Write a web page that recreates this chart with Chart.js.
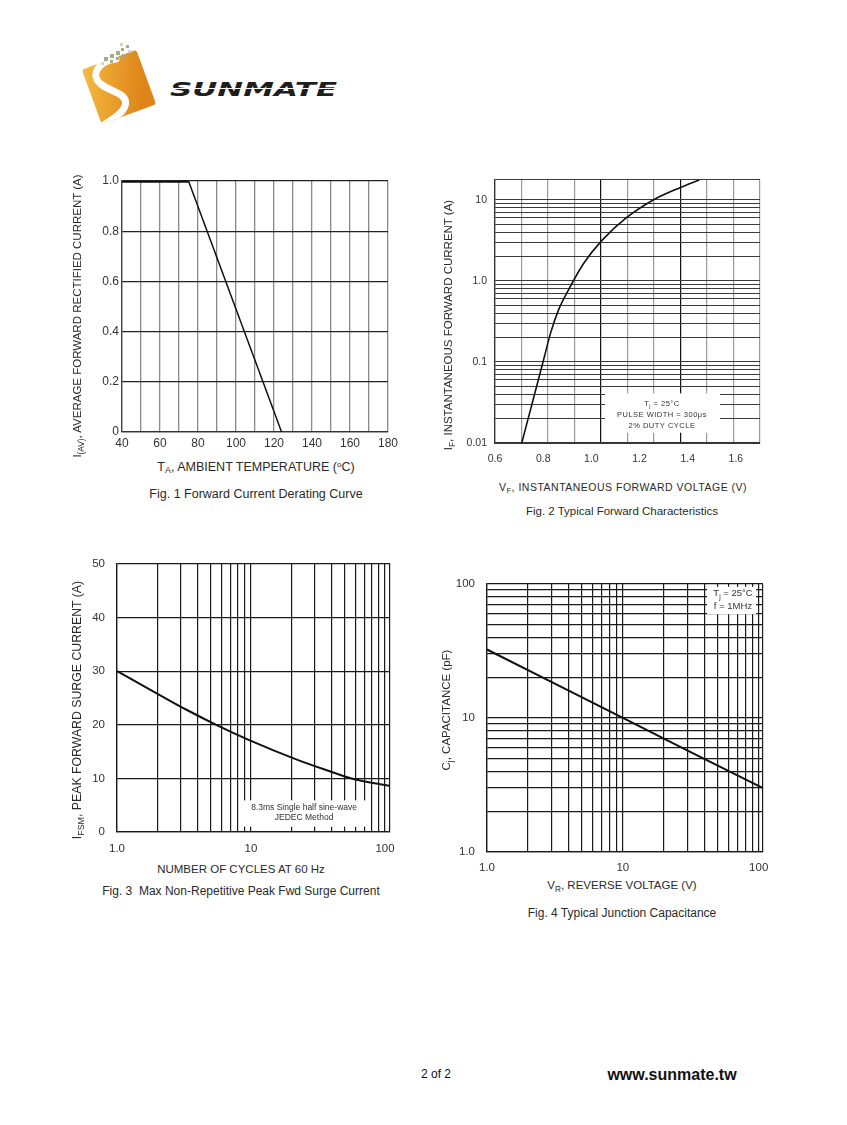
<!DOCTYPE html>
<html lang="en">
<head>
<meta charset="UTF-8">
<title>Sunmate - Typical Characteristic Curves</title>
<script src="https://cdn.jsdelivr.net/npm/chart.js"></script>
<style>
  body { margin: 0; background: #fff; font-family: "Liberation Sans", Arial, sans-serif; color: #2a2a2a; }
  #page { position: relative; width: 847px; height: 1125px; overflow: hidden; background: #fff; }
  canvas { position: absolute; }
  .lbl { position: absolute; white-space: nowrap; transform: translate(-50%, -50%); line-height: 1; }
  .rot { transform: translate(-50%, -50%) rotate(-90deg); }
  sub { font-size: 72%; vertical-align: -0.3em; line-height: 0; }
  sup { font-size: 65%; vertical-align: 0.45em; line-height: 0; }
  #logo { position: absolute; left: 0; top: 0; }
</style>
</head>
<body>
<div id="page">

  <svg id="logo" width="360" height="140" viewBox="0 0 360 140">
    <defs>
      <linearGradient id="og" x1="0" y1="0" x2="1" y2="0.4">
        <stop offset="0" stop-color="#f5ba42"/>
        <stop offset="1" stop-color="#de8418"/>
      </linearGradient>
      <clipPath id="sq"><rect x="90" y="58" width="58" height="58" rx="3" transform="rotate(-20 119 87)"/></clipPath>
    </defs>
    <rect x="90" y="58" width="58" height="58" rx="3" fill="url(#og)" transform="rotate(-20 119 87)"/>
    <path d="M116 59 C98 61 89 76 102 85 C112 92 129 94 125 106 C122 115 110 120 101 127"
          fill="none" stroke="#fff" stroke-width="7" stroke-linecap="round" clip-path="url(#sq)"/>
    <g fill="#a3ad86">
      <rect x="104" y="57" width="4" height="4"/><rect x="110" y="54" width="4" height="4"/>
      <rect x="116" y="51" width="4" height="4"/><rect x="110" y="60" width="3" height="3"/>
      <rect x="116" y="57" width="3" height="3"/><rect x="121" y="48" width="3" height="3"/>
      <rect x="122" y="54" width="3" height="3"/><rect x="126" y="45" width="3" height="3"/>
    </g>
    <g fill="#d2d6c4">
      <rect x="101" y="62" width="3" height="3"/><rect x="120" y="43" width="3" height="3"/>
      <rect x="128" y="50" width="3" height="3"/>
    </g>
    <text x="170" y="96" font-family="DejaVu Sans" font-size="19" font-weight="bold" font-style="italic"
          textLength="167" lengthAdjust="spacingAndGlyphs" fill="#1e1e1e">SUNMATE</text>
    <line x1="168" y1="88.5" x2="338" y2="88.5" stroke="#fff" stroke-width="1.2"/>
  </svg>

  <canvas id="fig1" width="330" height="282" style="left:72px;top:170px"></canvas>
  <canvas id="fig2" width="340" height="305" style="left:430px;top:165px"></canvas>
  <canvas id="fig3" width="335" height="311" style="left:67px;top:545px"></canvas>
  <canvas id="fig4" width="345" height="309" style="left:430px;top:565px"></canvas>

  <div class="lbl rot" style="left:78px;top:316px;font-size:11.5px">I<sub>(AV)</sub>, AVERAGE FORWARD RECTIFIED CURRENT (A)</div>
  <div class="lbl" style="left:256px;top:467px;font-size:12.5px">T<sub>A</sub>, AMBIENT TEMPERATURE (<sup>o</sup>C)</div>
  <div class="lbl" style="left:256px;top:494px;font-size:12.5px">Fig. 1 Forward Current Derating Curve</div>

  <div class="lbl rot" style="left:449px;top:325px;font-size:11.5px">I<sub>F</sub>, INSTANTANEOUS FORWARD CURRENT (A)</div>
  <div class="lbl" style="left:623px;top:487px;font-size:10.5px;letter-spacing:0.5px">V<sub>F</sub>, INSTANTANEOUS FORWARD VOLTAGE (V)</div>
  <div class="lbl" style="left:622px;top:512px;font-size:11.5px">Fig. 2 Typical Forward Characteristics</div>

  <div class="lbl rot" style="left:77px;top:710px;font-size:12.3px">I<sub>FSM</sub>, PEAK FORWARD SURGE CURRENT (A)</div>
  <div class="lbl" style="left:241px;top:870px;font-size:11.5px">NUMBER OF CYCLES AT 60 Hz</div>
  <div class="lbl" style="left:241px;top:891px;font-size:12px">Fig. 3&nbsp; Max Non-Repetitive Peak Fwd Surge Current</div>

  <div class="lbl rot" style="left:447px;top:710px;font-size:11.5px">C<sub>j</sub>, CAPACITANCE (pF)</div>
  <div class="lbl" style="left:622px;top:886px;font-size:11.5px">V<sub>R</sub>, REVERSE VOLTAGE (V)</div>
  <div class="lbl" style="left:622px;top:913px;font-size:12px">Fig. 4 Typical Junction Capacitance</div>

  <div class="lbl" style="left:436px;top:1074px;font-size:12px;color:#111">2 of 2</div>
  <div class="lbl" style="left:672px;top:1075px;font-size:16px;font-weight:bold;color:#111">www.sunmate.tw</div>
</div>

<script>
  // Fig. 1 - derating
  const derateTemp = [40, 75, 124];
  const derateCurrent = [1.0, 1.0, 0];

  // Fig. 2 - forward characteristics
  const fwdVolt = [0.711, 0.758, 0.805, 0.830, 0.863, 0.904, 0.967, 1.043, 1.147, 1.257, 1.368, 1.448];
  const fwdCurr = [0.01, 0.034, 0.116, 0.224, 0.434, 0.764, 1.63, 3.15, 6.08, 10.0, 14.2, 17.7];
  const fig2XTickVals = [0.6, 0.8, 1.0, 1.2, 1.4, 1.6];
  const fig2XTickText = ['0.6', '0.8', '1.0', '1.2', '1.4', '1.6'];
  const fig2YTickVals = [0.01, 0.1, 1, 10];
  const fig2YTickText = ['0.01', '0.1', '1.0', '10'];

  // Fig. 3 - surge current
  const cycles = [1, 2.1, 3.3, 5.7, 9.8, 22, 35, 58, 109];
  const surgeAmp = [30, 25.5, 22.8, 19.8, 17.1, 13.5, 11.7, 9.9, 8.6];

  // Fig. 4 - junction capacitance
  const revVolt = [1, 3, 10, 30, 107.6];
  const capPF = [32.4, 18.5, 10, 5.7, 3.0];

  const decadeVals = [1, 10, 100];
  const decadeText = ['1.0', '10', '100'];

  const FONT = '"Liberation Sans", Arial, sans-serif';

  function pts(xs, ys) { return xs.map((x, i) => ({ x: x, y: ys[i] })); }

  function logGrid(min, max) {
    const out = [];
    for (let e = Math.floor(Math.log10(min)); e <= Math.ceil(Math.log10(max)); e++) {
      for (let m = 1; m < 10; m++) {
        const v = Number((m * Math.pow(10, e)).toPrecision(6));
        if (v >= min - 1e-9 && v <= max + 1e-9) out.push(v);
      }
    }
    if (out[out.length - 1] < max) out.push(max);
    return out;
  }

  function findIn(vals, v) { return vals.findIndex(t => Math.abs(t - v) <= Math.abs(t) * 1e-6 + 1e-9); }

  function labelFrom(vals, text) {
    return v => { const i = findIn(vals, v); return i >= 0 ? text[i] : ''; };
  }

  // the printed Fig. 2 grid has 10 even columns that do not sit on the volt labels
  const fig2GridCols = [];
  for (let i = 0; i <= 10; i++) fig2GridCols.push(Number((0.6 + i * 0.11).toFixed(3)));

  // white note box with text drawn above the grid
  const notePlugin = {
    id: 'note',
    beforeDatasetsDraw(chart, args, o) {
      if (!o || !o.box) return;
      const ctx = chart.ctx, xs = chart.scales.x, ys = chart.scales.y;
      const x0 = xs.getPixelForValue(o.box[0]), x1 = xs.getPixelForValue(o.box[1]);
      const y0 = ys.getPixelForValue(o.box[2]), y1 = ys.getPixelForValue(o.box[3]);
      ctx.save();
      ctx.fillStyle = '#fff';
      ctx.fillRect(Math.min(x0, x1), Math.min(y0, y1), Math.abs(x1 - x0), Math.abs(y1 - y0));
      ctx.fillStyle = '#333';
      ctx.textBaseline = 'middle';
      ctx.letterSpacing = o.spacing || '0px';
      const cx = xs.getPixelForValue(o.cx);
      o.lines.forEach(l => {
        const cy = ys.getPixelForValue(l.y);
        let w = 0;
        const parts = l.parts.map(p => {
          const sub = typeof p !== 'string';
          const t = sub ? p.sub : p;
          ctx.font = (sub ? o.size * 0.7 : o.size) + 'px ' + o.family;
          const m = ctx.measureText(t).width;
          w += m;
          return { t, sub, m };
        });
        let x = cx - w / 2;
        parts.forEach(p => {
          ctx.font = (p.sub ? o.size * 0.7 : o.size) + 'px ' + o.family;
          ctx.fillText(p.t, x, cy + (p.sub ? o.size * 0.35 : 0));
          x += p.m;
        });
      });
      ctx.restore();
    }
  };

  function baseOptions(pad) {
    return {
      responsive: false,
      animation: false,
      events: [],
      layout: { padding: pad },
      plugins: { legend: { display: false }, tooltip: { enabled: false } }
    };
  }

  // ---------- Fig. 1 ----------
  new Chart(document.getElementById('fig1'), {
    type: 'line',
    data: {
      datasets: [{
        data: pts(derateTemp, derateCurrent),
        borderColor: '#111',
        borderWidth: 1.5,
        pointRadius: 0,
        segment: { borderWidth: c => c.p0DataIndex === 0 ? 3.5 : 1.5 }
      }]
    },
    options: Object.assign(baseOptions({ top: 11, right: 13, left: 0, bottom: 0 }), {
      scales: {
        x: {
          type: 'linear', min: 40, max: 180,
          afterFit: s => { s.height = 20; },
          ticks: { stepSize: 10, autoSkip: false, maxRotation: 0, padding: 4, color: '#333',
                   font: { family: FONT, size: 12 },
                   callback: v => v % 20 === 0 ? String(v) : '' },
          grid: { color: '#8a8a8a', lineWidth: 1.3, drawTicks: false },
          border: { color: '#333', width: 1.3 }
        },
        y: {
          min: 0, max: 1,
          afterFit: s => { s.width = 50; },
          ticks: { stepSize: 0.2, autoSkip: false, padding: 3, color: '#333',
                   font: { family: FONT, size: 12 },
                   callback: v => v === 0 ? '0' : v.toFixed(1) },
          grid: { color: '#222', lineWidth: 1.2, drawTicks: false },
          border: { color: '#444', width: 1.3 }
        }
      }
    })
  });

  // ---------- Fig. 2 ----------
  new Chart(document.getElementById('fig2'), {
    type: 'line',
    data: {
      datasets: [{
        data: pts(fwdVolt, fwdCurr),
        borderColor: '#111',
        borderWidth: 1.6,
        pointRadius: 0,
        cubicInterpolationMode: 'monotone'
      }]
    },
    options: Object.assign(baseOptions({ top: 13, right: 10, left: 0, bottom: 0 }), {
      scales: {
        x: {
          type: 'linear', min: 0.6, max: 1.7,
          afterFit: s => { s.height = 27; },
          afterBuildTicks: s => {
            const vals = fig2GridCols.concat(fig2XTickVals.filter(v => findIn(fig2GridCols, v) < 0));
            s.ticks = vals.sort((a, b) => a - b).map(v => ({ value: v }));
          },
          ticks: { autoSkip: false, maxRotation: 0, padding: 10, color: '#333',
                   font: { family: FONT, size: 10.5 },
                   callback: labelFrom(fig2XTickVals, fig2XTickText) },
          grid: { drawTicks: false, lineWidth: 1.2,
                  color: c => {
                    const i = c.tick ? findIn(fig2GridCols, c.tick.value) : -1;
                    if (i < 0) return 'rgba(0,0,0,0)';
                    return (i === 0 || i === 4 || i === 7) ? '#111' : '#9a9a9a';
                  } },
          border: { color: '#333', width: 1.2 }
        },
        y: {
          type: 'logarithmic', min: 0.01, max: 18,
          afterFit: s => { s.width = 65; },
          afterBuildTicks: s => { s.ticks = logGrid(0.01, 18).map(v => ({ value: v })); },
          ticks: { autoSkip: false, padding: 8, color: '#333',
                   font: { family: FONT, size: 10.5 },
                   callback: labelFrom(fig2YTickVals, fig2YTickText) },
          grid: { color: '#3a3a3a', lineWidth: 1, drawTicks: false },
          border: { color: '#333', width: 1.2 }
        }
      },
      plugins: {
        legend: { display: false }, tooltip: { enabled: false },
        note: {
          box: [1.057, 1.534, 0.0134, 0.041], cx: 1.293,
          size: 7.5, family: FONT, spacing: '0.5px',
          lines: [
            { y: 0.0301, parts: ['T', { sub: 'j' }, ' = 25°C'] },
            { y: 0.0221, parts: ['PULSE WIDTH = 300μs'] },
            { y: 0.0162, parts: ['2% DUTY CYCLE'] }
          ]
        }
      }
    }),
    plugins: [notePlugin]
  });

  // ---------- Fig. 3 ----------
  new Chart(document.getElementById('fig3'), {
    type: 'line',
    data: {
      datasets: [{
        data: pts(cycles, surgeAmp),
        borderColor: '#111',
        borderWidth: 2,
        pointRadius: 0,
        cubicInterpolationMode: 'monotone'
      }]
    },
    options: Object.assign(baseOptions({ top: 12, right: 12, left: 0, bottom: 0 }), {
      scales: {
        x: {
          type: 'logarithmic', min: 1, max: 109,
          afterFit: s => { s.height = 24; },
          afterBuildTicks: s => { s.ticks = logGrid(1, 109).map(v => ({ value: v })); },
          ticks: { autoSkip: false, maxRotation: 0, padding: 10, color: '#333',
                   font: { family: FONT, size: 11.5 },
                   callback: labelFrom(decadeVals, decadeText) },
          grid: { color: '#1a1a1a', lineWidth: 1.2, drawTicks: false },
          border: { color: '#1a1a1a', width: 1.3 }
        },
        y: {
          min: 0, max: 50,
          afterFit: s => { s.width = 50; },
          ticks: { stepSize: 10, autoSkip: false, padding: 12, color: '#333',
                   font: { family: FONT, size: 11.5 } },
          grid: { color: '#1a1a1a', lineWidth: 1.2, drawTicks: false },
          border: { color: '#1a1a1a', width: 1.3 }
        }
      },
      plugins: {
        legend: { display: false }, tooltip: { enabled: false },
        note: {
          box: [8.3, 74, 1.0, 5.9], cx: 24.9,
          size: 8.5, family: '"Liberation Sans Narrow", "Liberation Sans", Arial, sans-serif',
          lines: [
            { y: 4.6, parts: ['8.3ms Single half sine-wave'] },
            { y: 2.6, parts: ['JEDEC Method'] }
          ]
        }
      }
    }),
    plugins: [notePlugin]
  });

  // ---------- Fig. 4 ----------
  new Chart(document.getElementById('fig4'), {
    type: 'line',
    data: {
      datasets: [{
        data: pts(revVolt, capPF),
        borderColor: '#111',
        borderWidth: 2,
        pointRadius: 0,
        tension: 0
      }]
    },
    options: Object.assign(baseOptions({ top: 13, right: 12, left: 0, bottom: 0 }), {
      scales: {
        x: {
          type: 'logarithmic', min: 1, max: 107.6,
          afterFit: s => { s.height = 22; },
          afterBuildTicks: s => { s.ticks = logGrid(1, 107.6).map(v => ({ value: v })); },
          ticks: { autoSkip: false, maxRotation: 0, padding: 9, color: '#333',
                   font: { family: FONT, size: 11.5 },
                   callback: labelFrom(decadeVals, decadeText) },
          grid: { color: '#1a1a1a', lineWidth: 1.2, drawTicks: false },
          border: { color: '#1a1a1a', width: 1.3 }
        },
        y: {
          type: 'logarithmic', min: 1, max: 100,
          afterFit: s => { s.width = 57; },
          afterBuildTicks: s => { s.ticks = logGrid(1, 100).map(v => ({ value: v })); },
          ticks: { autoSkip: false, padding: 12, color: '#333',
                   font: { family: FONT, size: 11.5 },
                   callback: labelFrom(decadeVals, decadeText) },
          grid: { color: '#1a1a1a', lineWidth: 1.2, drawTicks: false },
          border: { color: '#1a1a1a', width: 1.3 }
        }
      },
      plugins: {
        legend: { display: false }, tooltip: { enabled: false },
        note: {
          box: [41.7, 95.7, 59.4, 95.1], cx: 64.7,
          size: 9.5, family: FONT,
          lines: [
            { y: 84.5, parts: ['T', { sub: 'j' }, ' = 25°C'] },
            { y: 67.6, parts: ['f = 1MHz'] }
          ]
        }
      }
    }),
    plugins: [notePlugin]
  });
</script>
</body>
</html>
